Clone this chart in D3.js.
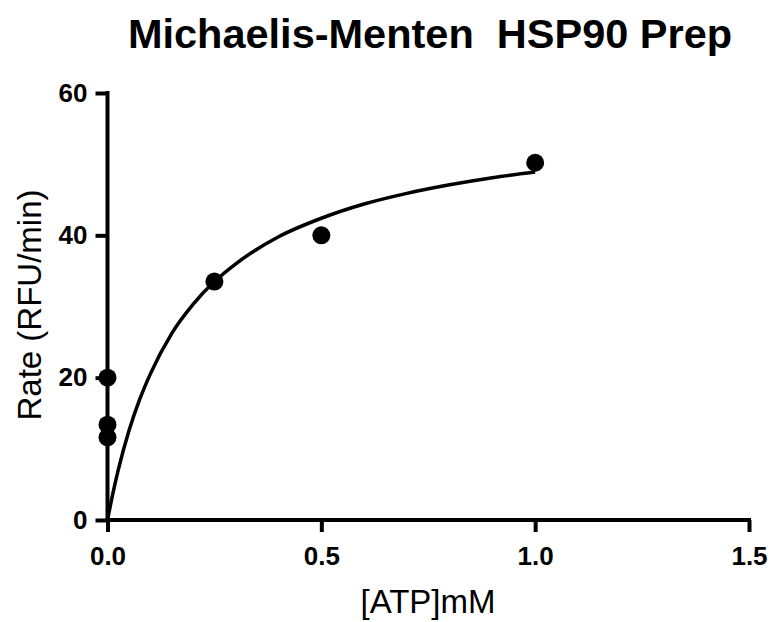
<!DOCTYPE html>
<html>
<head>
<meta charset="utf-8">
<script src="https://cdn.jsdelivr.net/npm/d3@7"></script>
<style>
  body { margin: 0; background: #fff; }
  svg { display: block; }
</style>
</head>
<body>
<div class="js-canvas"></div>
<script>
'use strict';

// measured points
const atpConc = [0, 0, 0, 0.25, 0.5, 1.0];
const rateValues = [20.0, 13.4, 11.6, 33.5, 40.0, 50.2];

// fitted curve
const fitConc = [0, 0.0125, 0.025, 0.05, 0.075, 0.1, 0.15, 0.2, 0.25, 0.3, 0.4, 0.5, 0.6, 0.7, 0.8, 0.9, 1.0];
const fitRate = [0, 3.7, 7.0, 12.5, 16.9, 20.5, 26.2, 30.3, 33.5, 36.0, 39.8, 42.4, 44.4, 45.9, 47.1, 48.1, 48.9];

const xTicks = [0, 0.5, 1.0, 1.5];
const yTicks = [0, 20, 40, 60];

const config = {
    width: 772,
    height: 622,
    margin: { top: 93, right: 23, bottom: 102, left: 107.5 }
};

const graphWidth = config.width - config.margin.left - config.margin.right;
const graphHeight = config.height - config.margin.top - config.margin.bottom;

const svg = d3.select('.js-canvas')
    .append('svg')
    .attr('width', config.width)
    .attr('height', config.height)
    .style('font-family', '"Liberation Sans", Arial, sans-serif');

const graph = svg.append('g')
    .attr('transform', `translate(${config.margin.left}, ${config.margin.top})`);

const x = d3.scaleLinear().domain([0, 1.5]).range([0, graphWidth]);
const y = d3.scaleLinear().domain([0, 60]).range([graphHeight, 0]);

// axes
const xAxis = d3.axisBottom(x)
    .tickValues(xTicks)
    .tickFormat(d3.format('.1f'))
    .tickSizeInner(12)
    .tickSizeOuter(0)
    .tickPadding(15);

const yAxis = d3.axisLeft(y)
    .tickValues(yTicks)
    .tickFormat(d3.format('d'))
    .tickSizeInner(12)
    .tickSizeOuter(0)
    .tickPadding(8);

const xAxisGroup = graph.append('g')
    .attr('transform', `translate(0, ${graphHeight})`)
    .call(xAxis);

const yAxisGroup = graph.append('g')
    .call(yAxis);

[xAxisGroup, yAxisGroup].forEach(g => {
    g.select('.domain').attr('stroke', '#000').attr('stroke-width', 4);
    g.selectAll('.tick line').attr('stroke', '#000').attr('stroke-width', 4);
    g.selectAll('.tick text')
        .attr('fill', '#000')
        .style('font-size', '26px')
        .style('font-weight', 'bold');
});
// extend the domain lines so the corners are square
xAxisGroup.select('.domain').attr('d', `M-2,0H${graphWidth + 2}`);
yAxisGroup.select('.domain').attr('d', `M0,${graphHeight + 2}V-2`);

// fitted curve
const line = d3.line()
    .x((d, i) => x(fitConc[i]))
    .y(d => y(d))
    .curve(d3.curveMonotoneX);

graph.append('path')
    .datum(fitRate)
    .attr('fill', 'none')
    .attr('stroke', '#000')
    .attr('stroke-width', 3.5)
    .attr('d', line);

// points
graph.selectAll('circle')
    .data(rateValues)
    .enter()
    .append('circle')
    .attr('cx', (d, i) => x(atpConc[i]))
    .attr('cy', d => y(d))
    .attr('r', 9)
    .attr('fill', '#000');

// labels
svg.append('text')
    .attr('x', 430)
    .attr('y', 48)
    .attr('text-anchor', 'middle')
    .style('font-size', '41.5px')
    .style('font-weight', 'bold')
    .style('white-space', 'pre')
    .text('Michaelis-Menten  HSP90 Prep');

svg.append('text')
    .attr('x', 428)
    .attr('y', 613)
    .attr('text-anchor', 'middle')
    .style('font-size', '33px')
    .text('[ATP]mM');

svg.append('text')
    .attr('transform', 'translate(41, 305) rotate(-90)')
    .attr('text-anchor', 'middle')
    .style('font-size', '33px')
    .text('Rate (RFU/min)');
</script>
</body>
</html>
